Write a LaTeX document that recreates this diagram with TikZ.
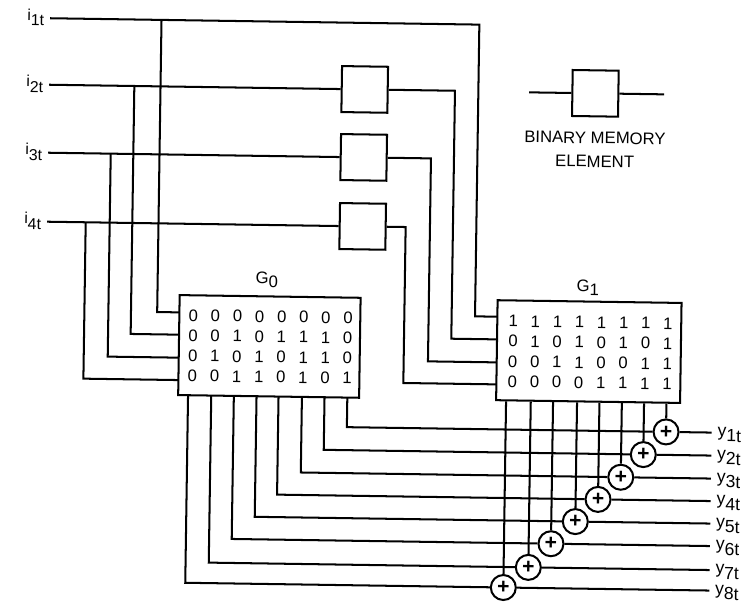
\documentclass[tikz,border=0pt]{standalone}
\usepackage{fontspec}
\setmainfont{Liberation Sans}
\tikzset{
  wire/.style={draw=black, line width=1.15pt},
  membox/.style={draw=black, fill=white, line width=1.15pt, minimum width=0.92cm, minimum height=0.92cm, inner sep=0pt},
  genbox/.style={draw=black, fill=white, line width=1.15pt, inner sep=0pt},
  xorc/.style={circle, draw=black, fill=white, line width=1.15pt, minimum size=0.5cm, inner sep=0pt,
               font=\fontsize{12}{12}\selectfont\bfseries},
  bitn/.style={inner sep=0pt, font=\fontsize{9.5}{10}\selectfont},
  lab/.style={inner xsep=3.2pt, inner ysep=0pt, text height=7pt, text depth=3pt, font=\fontsize{9}{10}\selectfont},
  ttl/.style={inner sep=0pt, font=\fontsize{9.5}{10}\selectfont},
  note/.style={inner sep=0pt, align=center, font=\fontsize{9.5}{13.4}\selectfont},
}
\newcommand{\sublab}[2]{#1\raisebox{-3.2pt}{#2}}
\begin{document}
\begin{tikzpicture}[x=0.02cm, y=-0.02cm]
\useasboundingbox (0,0) rectangle (754,602);
% the scan sits a little crooked on the page
\begin{scope}[rotate=-0.85, transform shape]

% input labels
\node[lab, text depth=4.5pt, anchor=east] (i1) at (50.3,17.5) {\sublab{i}{1t}};
\node[lab, text depth=4.5pt, anchor=east] (i2) at (50.3,84) {\sublab{i}{2t}};
\node[lab, text depth=4.5pt, anchor=east] (i3) at (50.3,152) {\sublab{i}{3t}};
\node[lab, text depth=4.5pt, anchor=east] (i4) at (50.3,221) {\sublab{i}{4t}};

% memory elements
\node[membox] (m2) at (366,84) {};
\node[membox] (m3) at (366,152) {};
\node[membox] (m4) at (366,221) {};

% the two generator blocks
\node[genbox, minimum width=3.62cm, minimum height=2cm] (g0) at (274.5,342.4) {};
\node[genbox, minimum width=3.68cm, minimum height=2cm] (g1) at (594,342.8) {};
\node[ttl] (g0t) at (271,276) {G\raisebox{-2.5pt}{0}};
\node[ttl] (g1t) at (592,279) {G\raisebox{-2.5pt}{1}};

\foreach \row [count=\r] in {{0,0,0,0,0,0,0,0},{0,0,1,0,1,1,1,0},{0,1,0,1,0,1,1,0},{0,0,1,1,0,1,0,1}} {
  \foreach \bit [count=\c] in \row {
    \node[bitn] (g0-\r-\c) at ({198+22.1*(\c-1)},{312.5+20.2*(\r-1)}) {\bit};
  }
}
\foreach \row [count=\r] in {{1,1,1,1,1,1,1,1},{0,1,0,1,0,1,0,1},{0,0,1,1,0,0,1,1},{0,0,0,0,1,1,1,1}} {
  \foreach \bit [count=\c] in \row {
    \node[bitn] (g1-\r-\c) at ({518+22.1*(\c-1)},{313.4+20.2*(\r-1)}) {\bit};
  }
}

% inputs into G0, taps on the lines
\coordinate (t1) at (161.8,17.5);
\coordinate (t2) at (135.6,84);
\coordinate (t3) at (113,152);
\coordinate (t4) at (89,221);
\coordinate (g0p1) at (184,309.7);
\coordinate (g0p2) at (184,332);
\coordinate (g0p3) at (184,355);
\coordinate (g0p4) at (184,377.4);
\foreach \n in {1,2,3,4} {
  \draw[wire] (t\n) |- (g0p\n);
}

% inputs into G1
\coordinate (c1) at (479.7,17.5);
\coordinate (c2) at (456.3,84);
\coordinate (c3) at (433.3,152);
\coordinate (c4) at (409,221);
\coordinate (g1p1) at (502,309.3);
\coordinate (g1p2) at (502,332);
\coordinate (g1p3) at (502,355);
\coordinate (g1p4) at (502,377);
\draw[wire] (i1.east) -- (c1) |- (g1p1);
\foreach \n in {2,3,4} {
  \draw[wire] (i\n.east) -- (m\n.west);
  \draw[wire] (m\n.east) -- (c\n) |- (g1p\n);
}

% the adders, upper right to lower left
\node[xorc] (x1) at (672.4,422) {+};
\node[xorc] (x2) at (650,445) {+};
\node[xorc] (x3) at (627.8,468) {+};
\node[xorc] (x4) at (605.4,490.5) {+};
\node[xorc] (x5) at (583,513) {+};
\node[xorc] (x6) at (559,535.5) {+};
\node[xorc] (x7) at (536.7,559.5) {+};
\node[xorc] (x8) at (512,580) {+};

% from G0 round to the adders, from G1 down to them
\foreach \n/\px in {1/353.2,2/330.4,3/307.8,4/284.4,5/262.4,6/239.7,7/217.1,8/193.9} {
  \coordinate (b\n) at (\px,392.4);
  \draw[wire] (b\n) |- (x\n.west);
  \draw[wire] (x\n.north) -- (x\n |- g1.south);
}

% outputs
\foreach \n/\py in {1/422,2/445,3/468,4/490.5,5/513,6/535.5,7/559.5,8/580} {
  \node[lab, anchor=west, font=\fontsize{10}{10}\selectfont] (y\n) at (718,\py) {\sublab{y}{\n t}};
  \draw[wire] (x\n.east) -- (y\n.west);
}

% legend
\node[membox] (key) at (596.7,84.5) {};
\coordinate (keyl) at (530.4,84.5);
\coordinate (keyr) at (665.4,84.5);
\draw[wire] (keyl) -- (key.west);
\draw[wire] (key.east) -- (keyr);
\node[note] (keyt) at (597,140.7) {BINARY MEMORY\\ELEMENT};
\end{scope}
\end{tikzpicture}
\end{document}
